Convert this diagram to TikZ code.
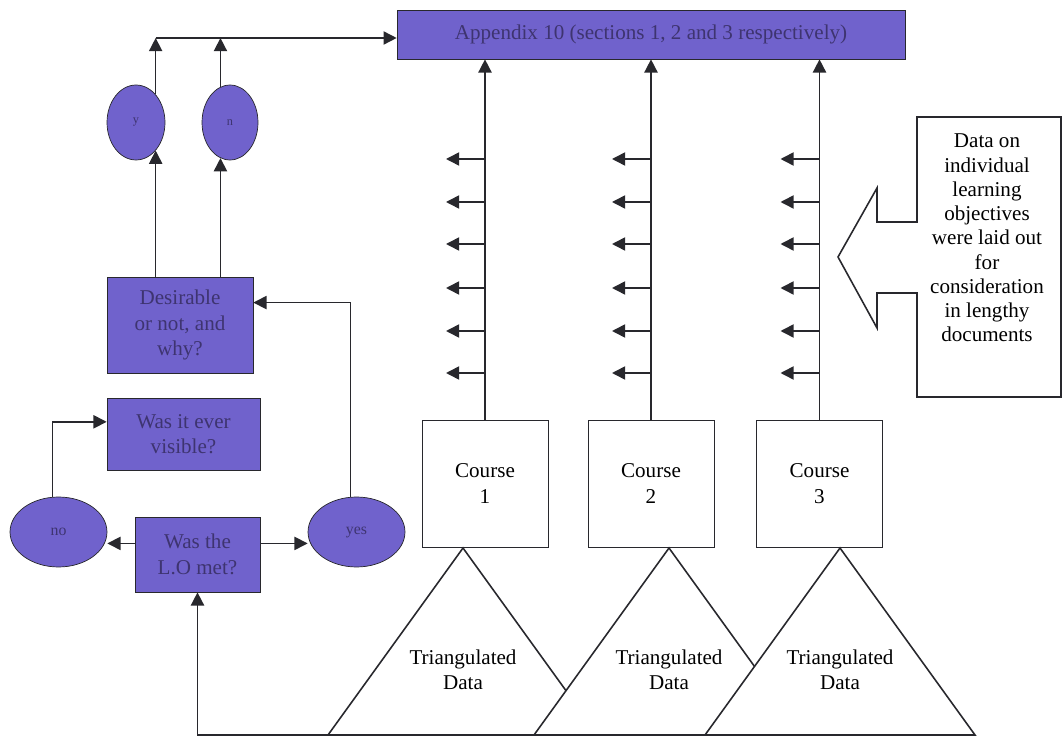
\documentclass[tikz,border=0pt]{standalone}
\usepackage{fontspec}
\setmainfont{Liberation Serif}
\usetikzlibrary{arrows.meta,shapes.geometric,positioning,calc}
\definecolor{lilac}{RGB}{112,98,204}
\definecolor{ink}{RGB}{62,52,112}
\definecolor{edge}{RGB}{40,40,45}

\begin{document}
\begin{tikzpicture}[
    x=0.02cm, y=-0.02cm,
    every node/.style={font=\fontsize{12}{14.5}\selectfont, align=center},
    lilacbox/.style={rectangle, draw=edge, fill=lilac, text=ink, inner sep=1pt},
    lilacoval/.style={ellipse, draw=edge, fill=lilac, text=ink, inner sep=0pt},
    coursebox/.style={rectangle, draw=edge, fill=white, minimum width=2.52cm, minimum height=2.54cm},
    link/.style={draw=edge, line width=0.9pt, -{Triangle[length=7.5pt,width=7.5pt]}},
    plain/.style={draw=edge, line width=0.9pt}
]
    \useasboundingbox (0,0) rectangle (1064,739);

    % Appendix bar
    \node[lilacbox, minimum width=10.16cm, minimum height=0.98cm] (appx) at (651,34.5) {Appendix 10 (sections 1, 2 and 3 respectively)};

    % y / n ovals
    \node[lilacoval, minimum width=1.16cm, minimum height=1.5cm] (ny) at (136,122.5) {\scriptsize y};
    \node[lilacoval, minimum width=1.12cm, minimum height=1.5cm] (nn) at (230,122.5) {\scriptsize n};

    % Decision boxes
    \node[lilacbox, minimum width=2.92cm, minimum height=1.92cm] (des) at (180,325) {Desirable\\or not, and\\why?};
    \node[lilacbox, minimum width=3.06cm, minimum height=1.44cm] (vis) at (183.5,434) {Was it ever\\visible?};
    \node[lilacbox, minimum width=2.5cm, minimum height=1.5cm] (lo) at (197.5,554.5) {Was the\\L.O met?};
    \node[lilacoval, minimum width=1.94cm, minimum height=1.4cm] (no) at (58.5,532) {\small no};
    \node[lilacoval, minimum width=1.94cm, minimum height=1.4cm] (yes) at (356.5,532) {\small yes};

    % Courses
    \node[coursebox] (c1) at (485,483.5) {Course\\1};
    \node[coursebox] (c2) at (651,483.5) {Course\\2};
    \node[coursebox] (c3) at (819.5,483.5) {Course\\3};

    % Triangulated data
    \foreach \n/\x in {1/463, 2/669, 3/840} {
        \coordinate (t\n) at (\x,548);
        \draw[plain, fill=white] (t\n) -- ++(-135,187) -- ++(270,0) -- cycle;
        \node (d\n) at (\x,670) {Triangulated\\Data};
    }
    \coordinate (b1) at (328,735);

    % Callout
    \draw[plain, fill=white] (917,117) -- (1061,117) -- (1061,397) -- (917,397) -- (917,293)
        -- (877,293) -- (877,328) -- (838,257) -- (877,188) -- (877,222) -- (917,222) -- cycle;
    \node[font=\fontsize{12}{13.8}\selectfont] (note) at (987,238) {Data on\\individual\\learning\\objectives\\were laid out\\for\\consideration\\in lengthy\\documents};

    % Arrows
    \coordinate (join) at (ny.55 |- 0,38);
    \draw[link] (ny.55) -- (join);
    \draw[link] (nn.105) -- (nn.105 |- join);
    \draw[link] (join) -- (join -| appx.west);
    \draw[link] (ny.-55 |- des.north) -- (ny.-55);
    \draw[link] (nn.-105 |- des.north) -- (nn.-105);
    \draw[link] (lo.170) -- (lo.170 -| no.east);
    \draw[link] (lo.10) -- (lo.10 -| yes.west);
    \draw[link] (no.100) |- (vis.171);
    \draw[link] (yes.100) |- (des.17);
    \draw[link] (b1) -| (lo.south);
    \foreach \c in {c1,c2,c3} {
        \draw[link] (\c.north) -- (\c.north |- appx.south);
        \foreach \y in {159,202,244,288,331,373}
            \draw[link] (\c.north |- 0,\y) -- ++(-39,0);
    }
\end{tikzpicture}
\end{document}
